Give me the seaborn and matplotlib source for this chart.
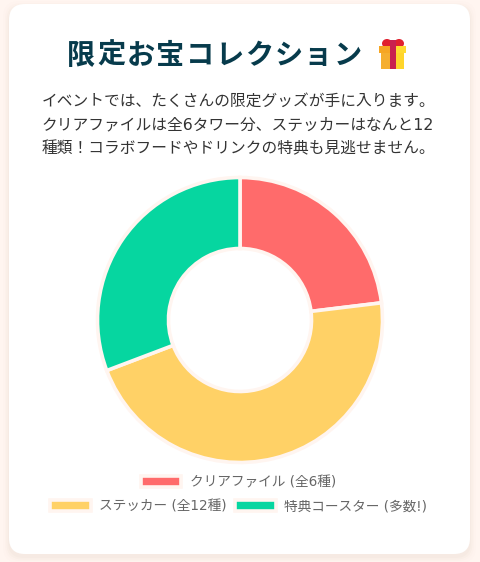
import matplotlib.pyplot as plt
import seaborn as sns
from matplotlib.patches import Ellipse, FancyBboxPatch, Rectangle

# chart data
labels = ["クリアファイル (全6種)", "ステッカー (全12種)", "特典コースター (多数!)"]
values = [6, 12, 8]
colors = ["#FF6B6B", "#FFD166", "#06D6A0"]

title = "限定お宝コレクション"
body_lines = [
    "イベントでは、たくさんの限定グッズが手に入ります。",
    "クリアファイルは全6タワー分、ステッカーはなんと12",
    "種類！コラボフードやドリンクの特典も見逃せません。",
]

BG = "#FFF5F0"
W, H = 480, 562

sns.set_theme(style="white")
plt.rcParams["font.family"] = ["DejaVu Sans", "Noto Sans CJK JP"]

fig = plt.figure(figsize=(W / 100, H / 100), dpi=100, facecolor=BG)

# page layer in pixel coordinates
page = fig.add_axes([0, 0, 1, 1])
page.set_xlim(0, W)
page.set_ylim(H, 0)
page.axis("off")

# soft card shadow, then the card
for grow, alpha in [(6, 0.008), (4, 0.012), (2.5, 0.018), (1, 0.025)]:
    page.add_patch(FancyBboxPatch((9 + 16 - grow, 4 + 16 + 3 - grow), 461 - 32 + 2 * grow, 550 - 32 + 2 * grow,
                                  boxstyle="round,pad=16,rounding_size=16", fc="#8a5a40", ec="none", alpha=alpha))
page.add_patch(FancyBboxPatch((9 + 16, 4 + 16), 461 - 32, 550 - 32,
                              boxstyle="round,pad=16,rounding_size=16", fc="white", ec="none"))

# title, one character at a time for the letter spacing
for i, ch in enumerate(title):
    page.text(81.5 + i * 29.55, 56, ch, fontsize=20.3, fontweight="bold", color="#073B4C", ha="center", va="center")

# gift emoji
page.add_patch(Ellipse((387, 43.5), 10, 9, fc="#E0202F", ec="none"))
page.add_patch(Ellipse((399, 43.5), 10, 9, fc="#E0202F", ec="none"))
page.add_patch(Rectangle((381, 52), 12, 17, fc="#F5AE2F", ec="none"))
page.add_patch(Rectangle((393, 52), 11, 17, fc="#FFD52B", ec="none"))
page.add_patch(Rectangle((379, 46), 14, 7, fc="#F6A623", ec="none"))
page.add_patch(Rectangle((393, 46), 13, 7, fc="#FFDA30", ec="none"))
page.add_patch(Rectangle((390, 40), 6, 29, fc="#C9204F", ec="none"))

for y, line in zip([101, 125, 149], body_lines):
    page.text(41.5, y, line, fontsize=11.3, color="#333333", ha="left", va="center")

# donut
ax = fig.add_axes([(240 - 150) / W, 1 - (320 + 150) / H, 300 / W, 300 / H])
wedges, _ = ax.pie(values, colors=colors, startangle=90, counterclock=False, radius=142.5,
                   wedgeprops=dict(width=71, edgecolor=BG, linewidth=2.6))
ax.set_xlim(-150, 150)
ax.set_ylim(-150, 150)
ax.set_aspect("equal")

# chart legend, wrapped on two rows
leg_opts = dict(frameon=False, fontsize=9.85, labelcolor="#666666", handlelength=2.95, handleheight=0.9,
                handletextpad=0.6, columnspacing=0.65, borderpad=0, borderaxespad=0)
row1 = fig.legend(wedges[:1], labels[:1], loc="center", bbox_to_anchor=(238.5 / W, 1 - 482 / H), **leg_opts)
row2 = fig.legend(wedges[1:], labels[1:], loc="center", bbox_to_anchor=(238.5 / W, 1 - 506 / H), ncol=2, **leg_opts)

fig.savefig("out.png", dpi=100, facecolor=BG)
